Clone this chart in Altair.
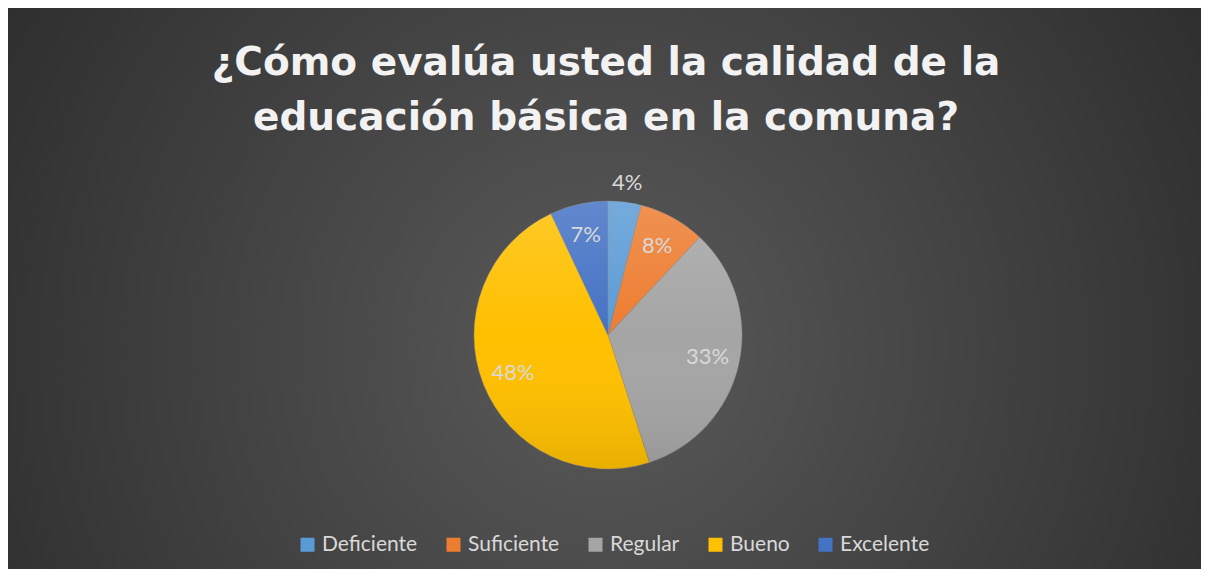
import altair as alt
import pandas as pd

categories = ["Deficiente", "Suficiente", "Regular", "Bueno", "Excelente"]
values = [4, 8, 33, 48, 7]
colors = ["#5b9bd5", "#ed7d31", "#a5a5a5", "#ffc000", "#4472c4"]
title_lines = ["¿Cómo evalúa usted la calidad de la", "educación básica en la comuna?"]

W, H = 1193, 561
CX, CY = 600, 327
R = 134

df = pd.DataFrame({"cat": categories, "value": values, "idx": list(range(len(values)))})
one = pd.DataFrame({"a": [0]})

bg = alt.Chart(one).mark_rect(
    color=alt.RadialGradient(
        gradient="radial",
        stops=[alt.GradientStop(offset=0, color="#5a5a5a"),
               alt.GradientStop(offset=1, color="#242424")],
        x1=0.5, y1=0.55, r1=0, x2=0.5, y2=0.55, r2=0.72,
    )
).encode(x=alt.value(0), x2=alt.value(W), y=alt.value(0), y2=alt.value(H))

title = alt.Chart(one).mark_text(
    text=title_lines, font="DejaVu Sans", fontSize=39, fontWeight="bold",
    color="#f2f2f2", lineHeight=55, align="center", baseline="alphabetic",
).encode(x=alt.value(598), y=alt.value(67))

pie = alt.Chart(df).mark_arc(radius=R, stroke="#8c8c8c", strokeWidth=0.4).encode(
    theta=alt.Theta("value:Q", stack=True),
    order=alt.Order("idx:Q"),
    x=alt.value(CX), y=alt.value(CY),
    color=alt.Color(
        "cat:N",
        scale=alt.Scale(domain=categories, range=colors),
        sort=categories,
        legend=alt.Legend(
            title=None, orient="none", legendX=289, legendY=526,
            direction="horizontal", symbolType="square", symbolSize=196,
            symbolStrokeWidth=0, labelFont="Lato", labelFontSize=21,
            labelColor="#d9d9d9", columnPadding=25, labelOffset=4,
        ),
    )
)

shade = alt.Chart(one).mark_arc(
    radius=R, theta=0, theta2=6.2832,
    color=alt.LinearGradient(
        gradient="linear",
        stops=[alt.GradientStop(offset=0, color="rgba(255,255,255,0.16)"),
               alt.GradientStop(offset=0.5, color="rgba(255,255,255,0.0)"),
               alt.GradientStop(offset=1, color="rgba(0,0,0,0.09)")],
        x1=0, y1=0, x2=0, y2=1,
    ),
).encode(x=alt.value(CX), y=alt.value(CY))

labels = alt.Chart(df).transform_joinaggregate(
    total="sum(value)"
).transform_window(
    cum="sum(value)", sort=[alt.SortField("idx")], frame=[None, 0]
).transform_calculate(
    mid="2 * PI * (datum.cum - datum.value / 2) / datum.total",
    label="datum.value + '%'",
    lr="datum.value < 5 ? 153 : 102",
).mark_text(font="Lato", fontSize=22, color="#d9d9d9", align="center", baseline="middle").encode(
    theta=alt.Theta("mid:Q", scale=None, stack=False),
    radius=alt.Radius("lr:Q", scale=None),
    x=alt.value(CX), y=alt.value(CY),
    text="label:N",
)

chart = alt.layer(bg, title, pie, shade, labels).properties(
    width=W, height=H, autosize="none", padding=0
).configure_view(strokeWidth=0).configure(background="white")

chart.save("out.html", embed_options={"renderer": "svg", "actions": False})
